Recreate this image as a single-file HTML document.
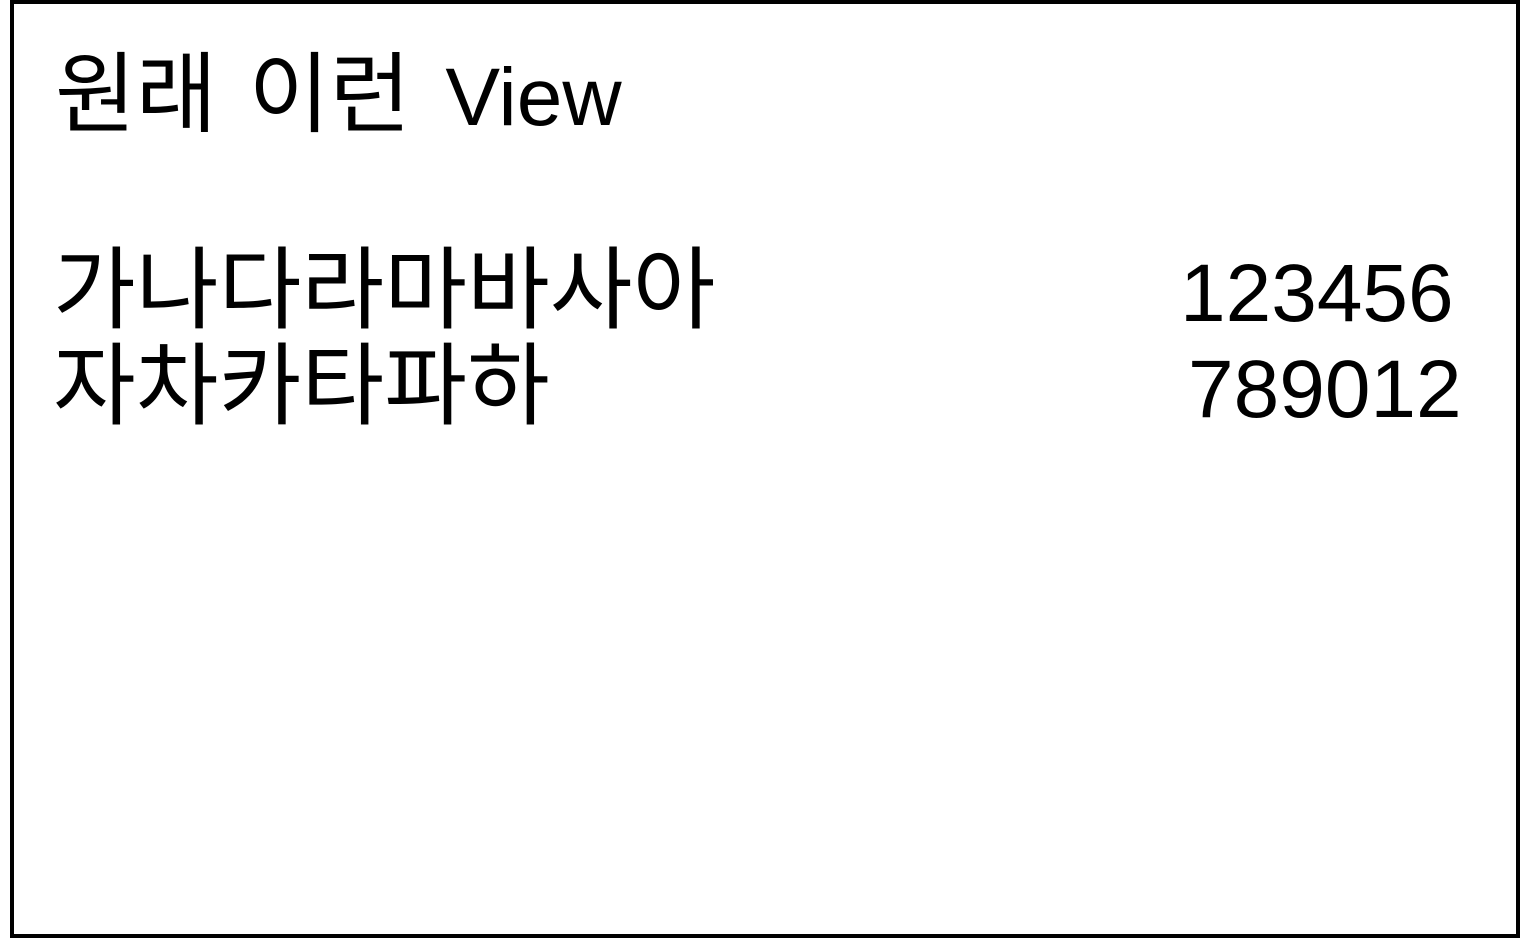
<!DOCTYPE html>
<html><head><meta charset="utf-8"><style>
body{margin:0;width:1520px;height:938px;background:#fff;overflow:hidden;position:relative;font-family:"Liberation Sans","Noto Sans CJK KR",sans-serif;color:#000}
#frame{position:absolute;left:10px;top:0;width:1502px;height:930px;border:4px solid #000}
.t{position:absolute;font-size:82px;line-height:1;white-space:nowrap}
.k{font-size:90px;font-family:"Noto Sans CJK KR",sans-serif}
</style></head><body>
<div id="frame"></div>
<div class="t" style="left:55px;top:44px;word-spacing:12px"><span class="k" style="font-size:88px">원래 이런</span> View</div>
<div class="t k" style="left:53px;top:237px">가나다라마바사아</div>
<div class="t" style="left:1180px;top:253px">123456</div>
<div class="t k" style="left:53px;top:333px">자차카타파하</div>
<div class="t" style="left:1188px;top:349px">789012</div>
</body></html>
